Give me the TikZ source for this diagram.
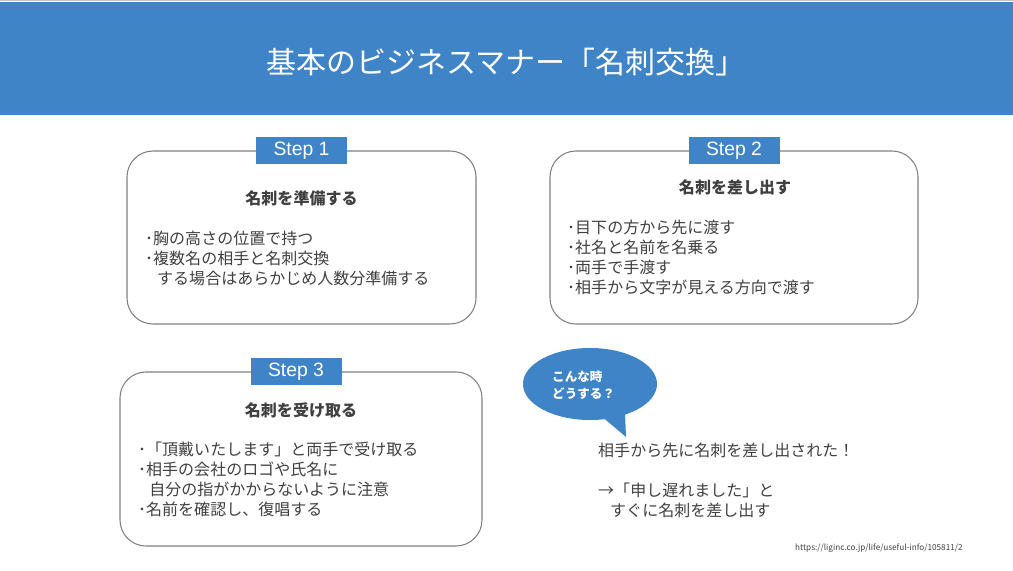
\documentclass[tikz,border=0pt]{standalone}
\usepackage{fontspec}
\setmainfont{Noto Sans CJK JP}
\newfontfamily\stepfont{Liberation Sans}
\usepackage{tikz}
\usetikzlibrary{positioning,calc}
\definecolor{bandblue}{HTML}{3E84C6}
\definecolor{textgray}{HTML}{404040}
\definecolor{boxgray}{HTML}{808080}
\tikzset{
  stepbox/.style={draw=boxgray, line width=0.9pt, rounded corners=0.78cm, fill=white},
  steplabel/.style={fill=bandblue, text=white, minimum width=2.73cm, minimum height=0.81cm, inner sep=0pt, font=\stepfont\fontsize{16.5}{18}\selectfont},
  stephead/.style={inner sep=0pt, text=textgray, font=\bfseries\fontsize{13.66}{17.07}\selectfont},
  steptext/.style={inner sep=0pt, anchor=west, align=left, text=textgray, font=\fontsize{13.66}{17.07}\selectfont},
  bubbletext/.style={inner sep=0pt, anchor=west, align=left, text=white, font=\bfseries\fontsize{10.7}{14.5}\selectfont}
}
\begin{document}
\begin{tikzpicture}[x=0.03cm,y=-0.03cm]
  \useasboundingbox (0,0) rectangle (1013,571);
  % title band
  \fill[gray!45] (0,0) rectangle (1013,1);
  \fill[bandblue] (0,2) rectangle (1013,115);
  \node[text=white, font=\fontsize{25.6}{30}\selectfont] (title) at (506,62) {基本のビジネスマナー「名刺交換」};

  % Step 1
  \node[stepbox, minimum width=10.47cm, minimum height=5.19cm] (box1) at (301.5,237.5) {};
  \node[steplabel] (lab1) at (box1.north) {Step 1};
  \node[stephead] (head1) at (301.5,198) {名刺を準備する};
  \node[steptext] (text1) at (145,258) {･胸の高さの位置で持つ\\･複数名の相手と名刺交換\\\hspace{0.75em}する場合はあらかじめ人数分準備する};

  % Step 2
  \node[stepbox, minimum width=11.04cm, minimum height=5.19cm] (box2) at (734,237.5) {};
  \node[steplabel] (lab2) at (box2.north) {Step 2};
  \node[stephead] (head2) at (735,187) {名刺を差し出す};
  \node[steptext] (text2) at (567,257.5) {･目下の方から先に渡す\\･社名と名前を名乗る\\･両手で手渡す\\･相手から文字が見える方向で渡す};

  % Step 3
  \node[stepbox, minimum width=10.86cm, minimum height=5.22cm] (box3) at (301,459) {};
  \node[steplabel] (lab3) at ([xshift=-0.15cm]box3.north) {Step 3};
  \node[stephead] (head3) at (301,410) {名刺を受け取る};
  \node[steptext] (text3) at (138,479.5) {･「頂戴いたします」と両手で受け取る\\･相手の会社のロゴや氏名に\\\hspace{0.7em}自分の指がかからないように注意\\･名前を確認し、復唱する};

  % speech bubble
  \fill[bandblue] (590,384) ellipse [x radius=2.01cm, y radius=1.08cm];
  \fill[bandblue] (600,415) -- (626,437) -- (625,412) -- cycle;
  \node[bubbletext] (bubble) at (552,385) {こんな時\\どうする？};
  \node[steptext] (case) at (598,480) {相手から先に名刺を差し出された！\\[17.07pt]→「申し遅れました」と\\\hspace{0.75em}すぐに名刺を差し出す};

  % source
  \node[anchor=west, inner sep=0pt, text=textgray, font=\fontsize{7}{8}\selectfont] (src) at (795,548) {https://liginc.co.jp/life/useful-info/105811/2};
\end{tikzpicture}
\end{document}
